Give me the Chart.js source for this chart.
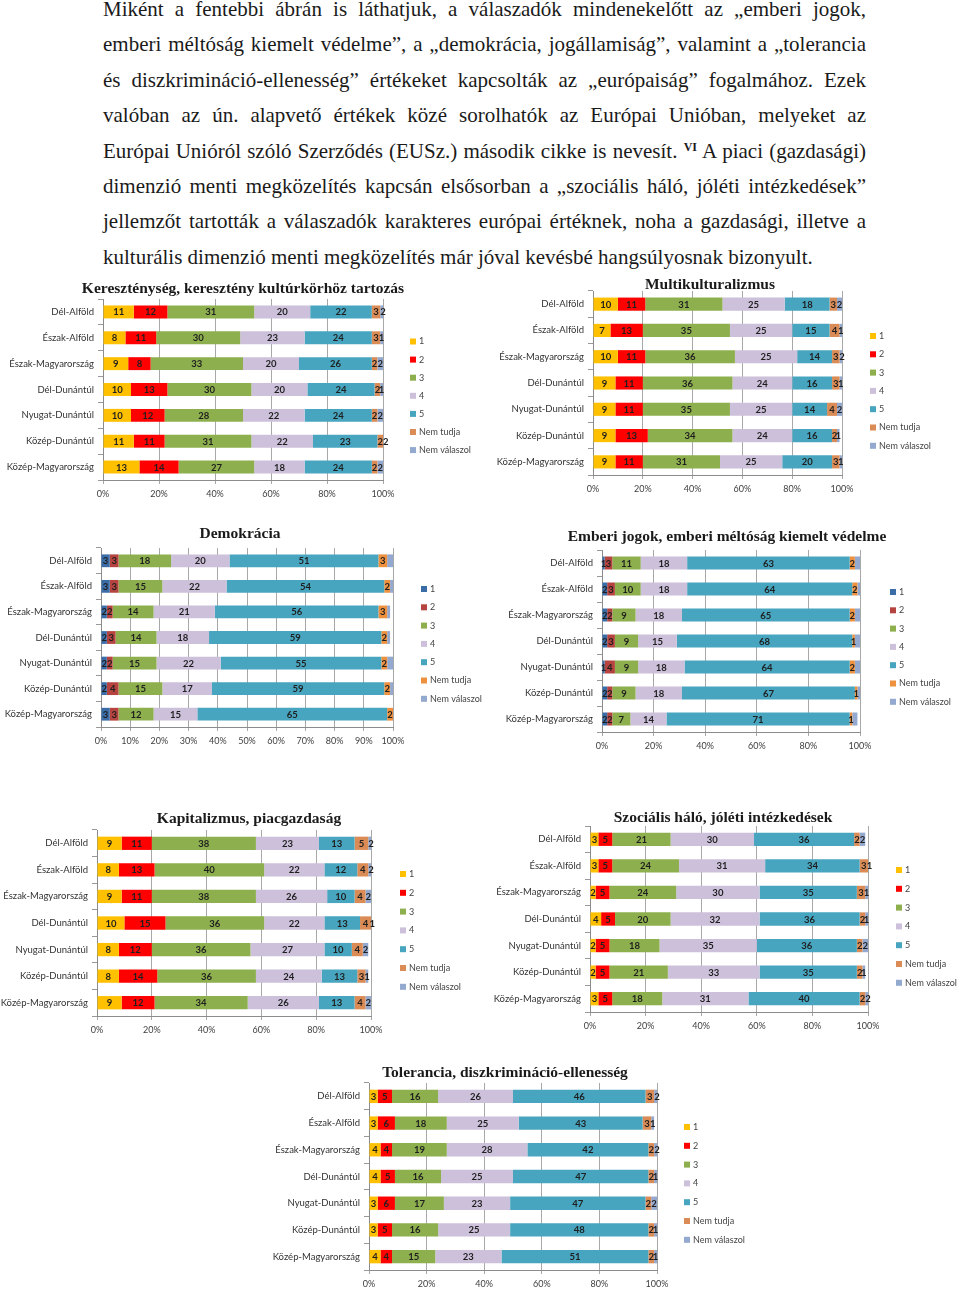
<!DOCTYPE html>
<html lang="hu">
<head>
<meta charset="UTF-8">
<title>Európai értékek régiónként</title>
<script src="https://cdn.jsdelivr.net/npm/chart.js"></script>
<style>
  html, body { margin: 0; padding: 0; background: #fff; }
  #page { position: relative; width: 960px; height: 1293px; overflow: hidden; }
  .szoveg { position: absolute; left: 103px; top: -8px; width: 763px;
            font-family: "Liberation Serif", serif; font-size: 21px; line-height: 35.4px; color: #1a1a1a; }
  .sor { white-space: nowrap; text-align: justify; text-align-last: justify; }
  .sor.utolso { text-align-last: left; }
  .sor sup { font-size: 12px; font-weight: bold; vertical-align: 7px; line-height: 0; }
  .grafikon { position: absolute; }
</style>
</head>
<body>
<div id="page">
  <div class="szoveg">
    <div class="sor">Miként a fentebbi ábrán is láthatjuk, a válaszadók mindenekelőtt az „emberi jogok,</div>
    <div class="sor">emberi méltóság kiemelt védelme”, a „demokrácia, jogállamiság”, valamint a „tolerancia</div>
    <div class="sor">és diszkrimináció-ellenesség” értékeket kapcsolták az „európaiság” fogalmához. Ezek</div>
    <div class="sor">valóban az ún. alapvető értékek közé sorolhatók az Európai Unióban, melyeket az</div>
    <div class="sor">Európai Unióról szóló Szerződés (EUSz.) második cikke is nevesít. <sup>VI</sup> A piaci (gazdasági)</div>
    <div class="sor">dimenzió menti megközelítés kapcsán elsősorban a „szociális háló, jóléti intézkedések”</div>
    <div class="sor">jellemzőt tartották a válaszadók karakteres európai értéknek, noha a gazdasági, illetve a</div>
    <div class="sor utolso">kulturális dimenzió menti megközelítés már jóval kevésbé hangsúlyosnak bizonyult.</div>
  </div>
</div>

<script>
// adatok: soronként egy régió, oszloponként a válaszok (1..5, Nem tudja, Nem válaszol)
const regiok = ['Dél-Alföld', 'Észak-Alföld', 'Észak-Magyarország', 'Dél-Dunántúl',
                'Nyugat-Dunántúl', 'Közép-Dunántúl', 'Közép-Magyarország'];
const valaszok = ['1', '2', '3', '4', '5', 'Nem tudja', 'Nem válaszol'];

const kereszteny = [
  [11, 12, 31, 20, 22, 3, 2],
  [8, 11, 30, 23, 24, 3, 1],
  [9, 8, 33, 20, 26, 2, 2],
  [10, 13, 30, 20, 24, 2, 1],
  [10, 12, 28, 22, 24, 2, 2],
  [11, 11, 31, 22, 23, 2, 2],
  [13, 14, 27, 18, 24, 2, 2]
];
const multikult = [
  [10, 11, 31, 25, 18, 3, 2],
  [7, 13, 35, 25, 15, 4, 1],
  [10, 11, 36, 25, 14, 3, 2],
  [9, 11, 36, 24, 16, 3, 1],
  [9, 11, 35, 25, 14, 4, 2],
  [9, 13, 34, 24, 16, 2, 1],
  [9, 11, 31, 25, 20, 3, 1]
];
const demokracia = [
  [3, 3, 18, 20, 51, 3, 2],
  [3, 3, 15, 22, 54, 2, 1],
  [2, 2, 14, 21, 56, 3, 1],
  [2, 3, 14, 18, 59, 2, 1],
  [2, 2, 15, 22, 55, 2, 2],
  [2, 4, 15, 17, 59, 2, 1],
  [3, 3, 12, 15, 65, 2, 0]
];
const emberiJogok = [
  [1, 3, 11, 18, 63, 2, 2],
  [2, 3, 10, 18, 64, 2, 1],
  [2, 2, 9, 18, 65, 2, 2],
  [2, 3, 9, 15, 68, 1, 2],
  [1, 4, 9, 18, 64, 2, 2],
  [2, 2, 9, 18, 67, 1, 1],
  [2, 2, 7, 14, 71, 1, 2]
];
const kapitalizmus = [
  [9, 11, 38, 23, 13, 5, 2],
  [8, 13, 40, 22, 12, 4, 2],
  [9, 11, 38, 26, 10, 4, 2],
  [10, 15, 36, 22, 13, 4, 1],
  [8, 12, 36, 27, 10, 4, 2],
  [8, 14, 36, 24, 13, 3, 1],
  [9, 12, 34, 26, 13, 4, 2]
];
const szocialis = [
  [3, 5, 21, 30, 36, 2, 2],
  [3, 5, 24, 31, 34, 3, 1],
  [2, 5, 24, 30, 35, 3, 1],
  [4, 5, 20, 32, 36, 2, 1],
  [2, 5, 18, 35, 36, 2, 2],
  [2, 5, 21, 33, 35, 2, 1],
  [3, 5, 18, 31, 40, 2, 2]
];
const tolerancia = [
  [3, 5, 16, 26, 46, 3, 2],
  [3, 6, 18, 25, 43, 3, 1],
  [4, 4, 19, 28, 42, 2, 2],
  [4, 5, 16, 25, 47, 2, 1],
  [3, 6, 17, 23, 47, 2, 2],
  [3, 5, 16, 25, 48, 2, 1],
  [4, 4, 15, 23, 51, 2, 1]
];

const meleg = ['#FFC000', '#FF0000', '#8DAF4E', '#CCC0DA', '#47A5BF', '#DB8B55', '#93A9CF'];
const hideg = ['#3A6DA8', '#B5433F', '#8DAF4E', '#CCC0DA', '#47A5BF', '#EE913F', '#93A9CF'];

// szamok a szakaszok kozepen
const szakaszCimke = {
  id: 'szakaszCimke',
  afterDatasetsDraw(chart) {
    const ctx = chart.ctx;
    ctx.save();
    ctx.font = 'bold 9.5px Lato';
    ctx.fillStyle = '#1e1e1e';
    ctx.textAlign = 'center';
    ctx.textBaseline = 'middle';
    chart.data.datasets.forEach((ds, i) => {
      if (ds.nincsCimke) return;
      chart.getDatasetMeta(i).data.forEach((bar, j) => {
        const v = ds.data[j];
        if (!v) return;
        const p = bar.getCenterPoint();
        ctx.fillText(v, p.x, p.y + 0.5);
      });
    });
    ctx.restore();
  }
};

// jelmagyarazat a jobb oldalon + a cim vizszintes helye
const oldalJelmagyarazat = {
  id: 'oldalJelmagyarazat',
  afterLayout(chart, args, opts) {
    const t = chart.titleBlock;
    if (t && opts.cimX != null) {
      t.left = opts.cimX - 300;
      t.right = opts.cimX + 300;
    }
  },
  afterDraw(chart, args, opts) {
    const ctx = chart.ctx;
    ctx.save();
    ctx.font = '9px Lato';
    ctx.textBaseline = 'middle';
    ctx.textAlign = 'left';
    chart.data.datasets.forEach((ds, i) => {
      const y = opts.y + i * opts.lepes;
      ctx.fillStyle = ds.backgroundColor;
      ctx.fillRect(opts.x, y - 3, 6, 6);
      ctx.fillStyle = '#444';
      ctx.fillText(ds.label, opts.x + 9, y);
    });
    ctx.restore();
  }
};

function grafikon(cim, sorok, szinek, g, lepes, nvCimkeNelkul) {
  const div = document.createElement('div');
  div.className = 'grafikon';
  div.style.left = g.L + 'px';
  div.style.top = g.T + 'px';
  div.style.width = (g.R - g.L) + 'px';
  div.style.height = (g.B - g.T) + 'px';
  const canvas = document.createElement('canvas');
  div.appendChild(canvas);
  document.getElementById('page').appendChild(div);

  const cimMeret = 15.5;
  new Chart(canvas, {
    type: 'bar',
    data: {
      labels: regiok,
      datasets: valaszok.map((v, k) => ({
        label: v,
        data: sorok.map(s => s[k]),
        backgroundColor: szinek[k],
        nincsCimke: nvCimkeNelkul && k === 6,
        barPercentage: 1,
        categoryPercentage: 0.5
      }))
    },
    options: {
      indexAxis: 'y',
      responsive: true,
      maintainAspectRatio: false,
      animation: false,
      layout: { padding: { left: 0, top: 0, right: g.R - g.plotR, bottom: 0 } },
      plugins: {
        legend: { display: false },
        tooltip: { enabled: false },
        title: {
          display: true,
          text: cim,
          color: '#1a1a1a',
          font: { family: 'Liberation Serif', weight: 'bold', size: cimMeret, lineHeight: 1.2 },
          padding: { top: g.cimY - g.T - cimMeret * 0.6, bottom: g.plotT - g.cimY - cimMeret * 0.6 }
        },
        oldalJelmagyarazat: { x: g.jx - g.L, y: g.jy - g.T, lepes: g.js, cimX: g.cimX - g.L }
      },
      scales: {
        x: {
          stacked: true,
          min: 0,
          max: 100,
          afterFit: s => { s.height = g.B - g.plotB; },
          ticks: { stepSize: lepes, callback: v => v + '%', color: '#404040',
                   font: { family: 'Lato', size: 9 }, padding: 4.5 },
          grid: { color: '#a8a8a8', tickLength: 4 },
          border: { color: '#8c8c8c' }
        },
        y: {
          stacked: true,
          afterFit: s => { s.width = g.plotL - g.L; },
          ticks: { color: '#333', font: { family: 'Lato', size: 9.5 }, padding: 4 },
          grid: { drawOnChartArea: false, tickLength: 5, color: '#999' },
          border: { color: '#8c8c8c' }
        }
      }
    },
    plugins: [szakaszCimke, oldalJelmagyarazat]
  });
}

grafikon('Kereszténység, keresztény kultúrkörhöz tartozás', kereszteny, meleg,
  { L: 0, T: 276, R: 486, B: 502, plotL: 103, plotR: 383, plotT: 299, plotB: 480, cimX: 243, cimY: 289, jx: 410, jy: 341.5, js: 18.1 }, 20, false);
grafikon('Multikulturalizmus', multikult, meleg,
  { L: 490, T: 272, R: 935, B: 497, plotL: 593, plotR: 842, plotT: 291, plotB: 475, cimX: 710, cimY: 285, jx: 870, jy: 336, js: 18.3 }, 20, false);
grafikon('Demokrácia', demokracia, hideg,
  { L: 0, T: 521, R: 484, B: 750, plotL: 101, plotR: 393, plotT: 548, plotB: 727, cimX: 240, cimY: 534, jx: 421, jy: 589, js: 18.3 }, 10, true);
grafikon('Emberi jogok, emberi méltóság kiemelt védelme', emberiJogok, hideg,
  { L: 498, T: 524, R: 956, B: 752, plotL: 602, plotR: 860, plotT: 550, plotB: 732, cimX: 727, cimY: 537, jx: 890, jy: 592, js: 18.3 }, 20, true);
grafikon('Kapitalizmus, piacgazdaság', kapitalizmus, meleg,
  { L: 0, T: 804, R: 498, B: 1036, plotL: 97, plotR: 371, plotT: 830, plotB: 1016, cimX: 249, cimY: 819, jx: 400, jy: 874, js: 18.8 }, 20, false);
grafikon('Szociális háló, jóléti intézkedések', szocialis, meleg,
  { L: 486, T: 802, R: 960, B: 1033, plotL: 590, plotR: 868, plotT: 826, plotB: 1012, cimX: 723, cimY: 818, jx: 896, jy: 870, js: 18.8 }, 20, false);
grafikon('Tolerancia, diszkrimináció-ellenesség', tolerancia, meleg,
  { L: 262, T: 1058, R: 750, B: 1293, plotL: 369, plotR: 657, plotT: 1083, plotB: 1270, cimX: 505, cimY: 1073, jx: 684, jy: 1127, js: 18.8 }, 20, false);
</script>
</body>
</html>
